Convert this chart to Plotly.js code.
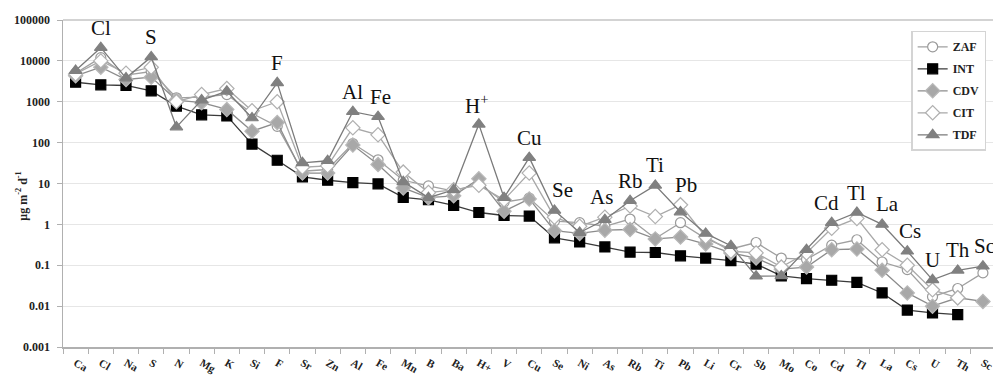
<!DOCTYPE html>
<html>
<head>
<meta charset="utf-8">
<script src="https://cdn.plot.ly/plotly-3.0.1.min.js"></script>
<style>html,body{margin:0;padding:0;background:#fff;}#chart{width:993px;height:377px;}</style>
</head>
<body>
<div id="chart"></div>
<script>
const elements = ["Ca","Cl","Na","S","N","Mg","K","Si","F","Sr","Zn","Al","Fe","Mn","B","Ba","H+","V","Cu","Se","Ni","As","Rb","Ti","Pb","Li","Cr","Sb","Mo","Co","Cd","Tl","La","Cs","U","Th","Sc"];

const ZAF = [5000,12000,4500,5500,1250,1300,1500,520,250,20,22,95,38,12,8.7,6.5,10,3.5,4.4,1.2,1.1,0.9,1.35,0.45,1.1,0.45,0.25,0.36,0.15,0.14,0.31,0.42,0.12,0.078,0.017,0.027,0.065];
const INT = [3000,2600,2500,1850,780,480,450,92,37,14.5,12,10.5,9.8,4.6,4,2.9,1.95,1.65,1.6,0.47,0.37,0.28,0.21,0.205,0.17,0.15,0.13,0.107,0.055,0.047,0.043,0.038,0.021,0.008,0.0068,0.0062,null];
const CDV = [4300,7000,3500,4000,1100,950,650,190,310,18,18,87,29,7.8,4.5,5,13,2.1,4.2,0.7,0.6,0.72,0.75,0.44,0.49,0.33,0.2,0.15,0.08,0.09,0.24,0.25,0.075,0.021,0.01,0.016,0.013];
const CIT = [4800,10000,5000,7000,1000,1500,2100,600,1000,25,27,230,155,19,6,7,9,4,18,1.5,0.9,1.5,2.8,1.55,3,0.5,0.22,0.2,0.09,0.2,0.8,1.4,0.24,0.1,0.025,0.016,null];
const TDF = [5800,21000,3800,12500,240,1100,1800,400,2900,32,36,570,430,11,4.5,7,280,4.5,43,2.2,0.63,1.3,3.8,9,2,0.6,0.3,0.054,0.055,0.24,1.1,1.95,1.0,0.22,0.044,0.075,0.095];

const peakLabels = ["Cl","S","F","Al","Fe","H+","Cu","Se","As","Rb","Ti","Pb","Cd","Tl","La","Cs","U","Th","Sc"];
const peakText = {"H+":"H<sup>+</sup>"};
const peakDx = {"Se":8,"As":-3,"Pb":6,"Cd":-5,"La":5,"Cs":3,"Fe":2,"Sc":2,"H+":-2};

const traces = [
  {name:"ZAF", y:ZAF, symbol:"circle", size:10, fill:"#ffffff", outline:"#9a9a9a", line:"#a0a0a0"},
  {name:"INT", y:INT, symbol:"square", size:10, fill:"#000000", outline:"#000000", line:"#3a3a3a"},
  {name:"CDV", y:CDV, symbol:"diamond", size:11, fill:"#a8a8a8", outline:"#b8b8b8", line:"#8c8c8c"},
  {name:"CIT", y:CIT, symbol:"diamond", size:11, fill:"#ffffff", outline:"#b0b0b0", line:"#a8a8a8"},
  {name:"TDF", y:TDF, symbol:"triangle-up", size:11, fill:"#808080", outline:"#808080", line:"#7a7a7a"}
].map(t => ({
  type:"scatter", mode:"lines+markers", name:t.name, x:elements, y:t.y,
  legendgroup:t.name,
  line:{color:t.line, width:1.3},
  marker:{symbol:t.symbol, size:t.size, color:t.fill, line:{color:t.outline, width:1.2}},
  connectgaps:false
}));

const annotations = peakLabels.map(el => {
  const i = elements.indexOf(el);
  const vals = [ZAF[i],INT[i],CDV[i],CIT[i],TDF[i]].filter(v => v != null);
  const top = Math.max(...vals);
  return {
    x: el, y: Math.log10(top), xref:"x", yref:"y",
    text: peakText[el] || el, showarrow:false,
    xanchor:"center", yanchor:"middle",
    yshift: 20, xshift: peakDx[el] || 0,
    font:{family:"Liberation Serif, Times New Roman, serif", size:21, color:"#111"}
  };
});
annotations.push({
  xref:"paper", yref:"paper", x:-0.044, y:0.46, textangle:-90,
  text:"μg m<sup>-2</sup> d<sup>-1</sup>", showarrow:false,
  xanchor:"center", yanchor:"middle",
  font:{family:"Liberation Serif, Times New Roman, serif", size:12, color:"#222", weight:"bold"}
});

const tickFont = {family:"Liberation Serif, Times New Roman, serif", size:12, color:"#222", weight:"bold"};
const xTickFont = {family:"Liberation Serif, Times New Roman, serif", size:11, color:"#222", weight:"bold"};

const layout = {
  width:993, height:377,
  margin:{l:63, r:0, t:20, b:30},
  paper_bgcolor:"#ffffff", plot_bgcolor:"#ffffff",
  showlegend:true,
  legend:{x:0.912, y:0.967, xanchor:"left", yanchor:"top",
    bgcolor:"#ffffff", bordercolor:"#d4d4d4", borderwidth:1.5,
    font:{family:"Liberation Serif, Times New Roman, serif", size:12, color:"#222", weight:"bold"},
    tracegroupgap:3, itemwidth:30},
  xaxis:{type:"category", range:[-0.5, 36.4], tickson:"boundaries",
    ticks:"outside", ticklen:5, tickcolor:"#b0b0b0", tickwidth:1,
    showline:true, linecolor:"#b0b0b0", linewidth:1.5, showgrid:false,
    tickfont:xTickFont, ticklabelstandoff:4, zeroline:false, fixedrange:true},
  yaxis:{type:"log", range:[-3, 5], tickvals:[0.001,0.01,0.1,1,10,100,1000,10000,100000],
    ticktext:["0.001","0.01","0.1","1","10","100","1000","10000","100000"],
    ticks:"outside", ticklen:5, tickcolor:"#b0b0b0",
    showline:true, linecolor:"#b0b0b0", linewidth:1.5,
    showgrid:true, gridcolor:"#e6e6e6", gridwidth:1.2,
    tickfont:tickFont, ticklabelstandoff:4, zeroline:false, fixedrange:true},
  shapes:[{type:"line", xref:"paper", yref:"paper", x0:0, x1:1, y0:1, y1:1,
    line:{color:"#c4c4c4", width:1.5}}],
  annotations: annotations
};

Plotly.newPlot("chart", traces, layout, {staticPlot:true, displayModeBar:false});
</script>
</body>
</html>
